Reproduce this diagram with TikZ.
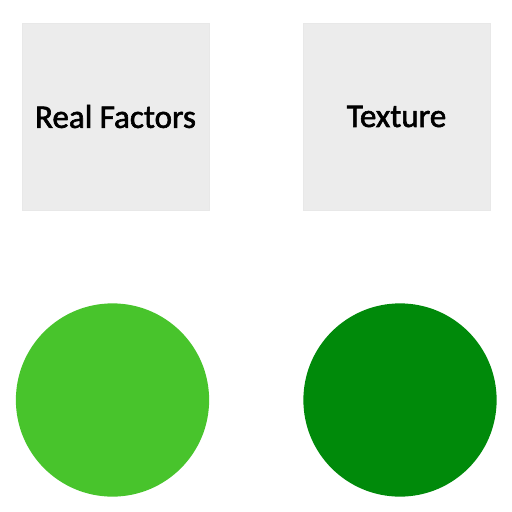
\documentclass[tikz,border=0pt]{standalone}
\usepackage{fontspec}
\setmainfont{Carlito}
\begin{document}
\begin{tikzpicture}[x=0.025cm, y=-0.025cm,
          panel/.style={draw=gray!18, fill=gray!15, line width=0.6pt, minimum size=4.675cm, inner sep=0pt, font=\addfontfeature{FakeBold=1.8}\fontsize{23.5}{28}\selectfont},
          ball/.style={circle, minimum size=4.83cm, inner sep=0pt}]
        \useasboundingbox (0,0) rectangle (512,512);
        \node[panel] (real) at (115.5,116.5) {Real Factors};
        \node[panel] (texture) at (396.5,116.5) {Texture};
        \node[ball, fill={rgb,255:red,72;green,196;blue,44}] (realball) at (112.5,400) {};
        \node[ball, fill={rgb,255:red,0;green,138;blue,10}] (textureball) at (400,400) {};
      \end{tikzpicture}
\end{document}
